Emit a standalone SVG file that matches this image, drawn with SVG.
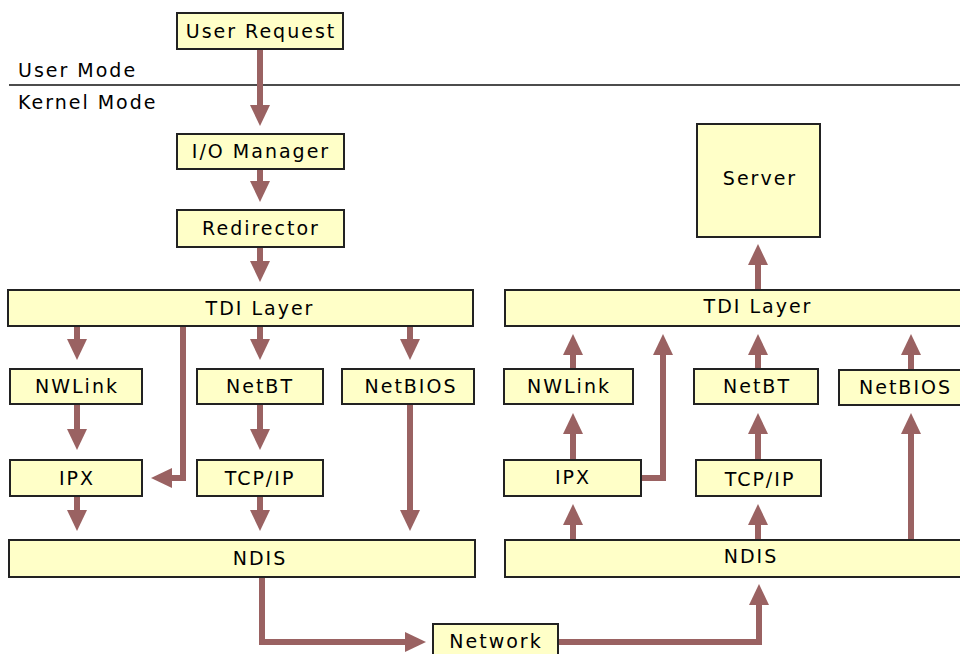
<svg xmlns="http://www.w3.org/2000/svg" width="960" height="654" viewBox="0 0 960 654">
  <style>
    .box { fill: #ffffc8; stroke: #222; stroke-width: 2; }
    .lbl { font-family: "DejaVu Sans", Verdana, sans-serif; font-size: 19px; letter-spacing: 2px; fill: #000; text-anchor: middle; }
    .mode { font-family: "DejaVu Sans", Verdana, sans-serif; font-size: 19px; letter-spacing: 2px; fill: #000; }
    .wire { fill: none; stroke: #9a6262; stroke-width: 6; marker-end: url(#ah); }
  </style>
  <defs>
    <marker id="ah" markerUnits="userSpaceOnUse" markerWidth="22" markerHeight="22" viewBox="0 -10 22 20" refX="1" refY="0" orient="auto" overflow="visible">
      <path d="M0,-10 L21,0 L0,10 z" fill="#9a6262"/>
    </marker>
  </defs>
  <rect width="960" height="654" fill="#fff"/>

  <!-- mode boundary -->
  <g id="modes">
    <text class="mode" x="18" y="77">User Mode</text>
    <line x1="9" y1="85" x2="960" y2="85" stroke="#111" stroke-width="1.5"/>
    <text class="mode" x="18" y="109">Kernel Mode</text>
  </g>

  <!-- connectors: each line stops at the base of its arrowhead -->
  <g id="connectors">
    <path class="wire" d="M260,49 V106"/>
    <path class="wire" d="M260,169 V182"/>
    <path class="wire" d="M260,247 V262"/>
    <path class="wire" d="M77,326 V340"/>
    <path class="wire" d="M260,326 V340"/>
    <path class="wire" d="M410,326 V340"/>
    <path class="wire" d="M183,326 V478 H171"/>
    <path class="wire" d="M77,404 V430"/>
    <path class="wire" d="M260,404 V430"/>
    <path class="wire" d="M77,496 V511"/>
    <path class="wire" d="M260,496 V511"/>
    <path class="wire" d="M410,404 V511"/>
    <path class="wire" d="M262,577 V642 H406"/>
    <path class="wire" d="M558,642 H759 V604"/>
    <path class="wire" d="M573,540 V524"/>
    <path class="wire" d="M758,540 V524"/>
    <path class="wire" d="M911,540 V433"/>
    <path class="wire" d="M573,460 V433"/>
    <path class="wire" d="M758,460 V433"/>
    <path class="wire" d="M641,478 H663 V354"/>
    <path class="wire" d="M573,369 V354"/>
    <path class="wire" d="M758,369 V354"/>
    <path class="wire" d="M911,370 V354"/>
    <path class="wire" d="M758,290 V264"/>
  </g>

  <!-- sending side -->
  <g id="user-request"><rect class="box" x="177" y="13" width="166" height="36"/><text class="lbl" x="261" y="38">User Request</text></g>
  <g id="io-manager"><rect class="box" x="177" y="134" width="167" height="35"/><text class="lbl" x="261" y="158">I/O Manager</text></g>
  <g id="redirector"><rect class="box" x="177" y="210" width="167" height="37"/><text class="lbl" x="261" y="235">Redirector</text></g>
  <g id="tdi-left"><rect class="box" x="8" y="290" width="465" height="36"/><text class="lbl" x="260" y="315">TDI Layer</text></g>
  <g id="nwlink-left"><rect class="box" x="10" y="369" width="132" height="35"/><text class="lbl" x="77" y="393">NWLink</text></g>
  <g id="netbt-left"><rect class="box" x="197" y="369" width="126" height="35"/><text class="lbl" x="260" y="393">NetBT</text></g>
  <g id="netbios-left"><rect class="box" x="342" y="369" width="132" height="35"/><text class="lbl" x="411" y="393">NetBIOS</text></g>
  <g id="ipx-left"><rect class="box" x="10" y="460" width="132" height="36"/><text class="lbl" x="77" y="485">IPX</text></g>
  <g id="tcpip-left"><rect class="box" x="197" y="460" width="126" height="36"/><text class="lbl" x="260" y="485">TCP/IP</text></g>
  <g id="ndis-left"><rect class="box" x="9" y="540" width="466" height="37"/><text class="lbl" x="260" y="565">NDIS</text></g>

  <!-- wire -->
  <g id="network"><rect class="box" x="433" y="624" width="125" height="40"/><text class="lbl" x="496" y="648">Network</text></g>

  <!-- receiving side -->
  <g id="server"><rect class="box" x="697" y="124" width="123" height="113"/><text class="lbl" x="760" y="185">Server</text></g>
  <g id="tdi-right"><rect class="box" x="505" y="290" width="465" height="36"/><text class="lbl" x="758" y="313">TDI Layer</text></g>
  <g id="nwlink-right"><rect class="box" x="504" y="369" width="129" height="35"/><text class="lbl" x="569" y="393">NWLink</text></g>
  <g id="netbt-right"><rect class="box" x="694" y="369" width="124" height="35"/><text class="lbl" x="757" y="393">NetBT</text></g>
  <g id="netbios-right"><rect class="box" x="839" y="370" width="131" height="35"/><text class="lbl" x="859" y="394" style="text-anchor:start">NetBIOS</text></g>
  <g id="ipx-right"><rect class="box" x="504" y="460" width="137" height="36"/><text class="lbl" x="573" y="484">IPX</text></g>
  <g id="tcpip-right"><rect class="box" x="696" y="460" width="125" height="36"/><text class="lbl" x="760" y="486">TCP/IP</text></g>
  <g id="ndis-right"><rect class="box" x="505" y="540" width="465" height="37"/><text class="lbl" x="751" y="563">NDIS</text></g>
</svg>
